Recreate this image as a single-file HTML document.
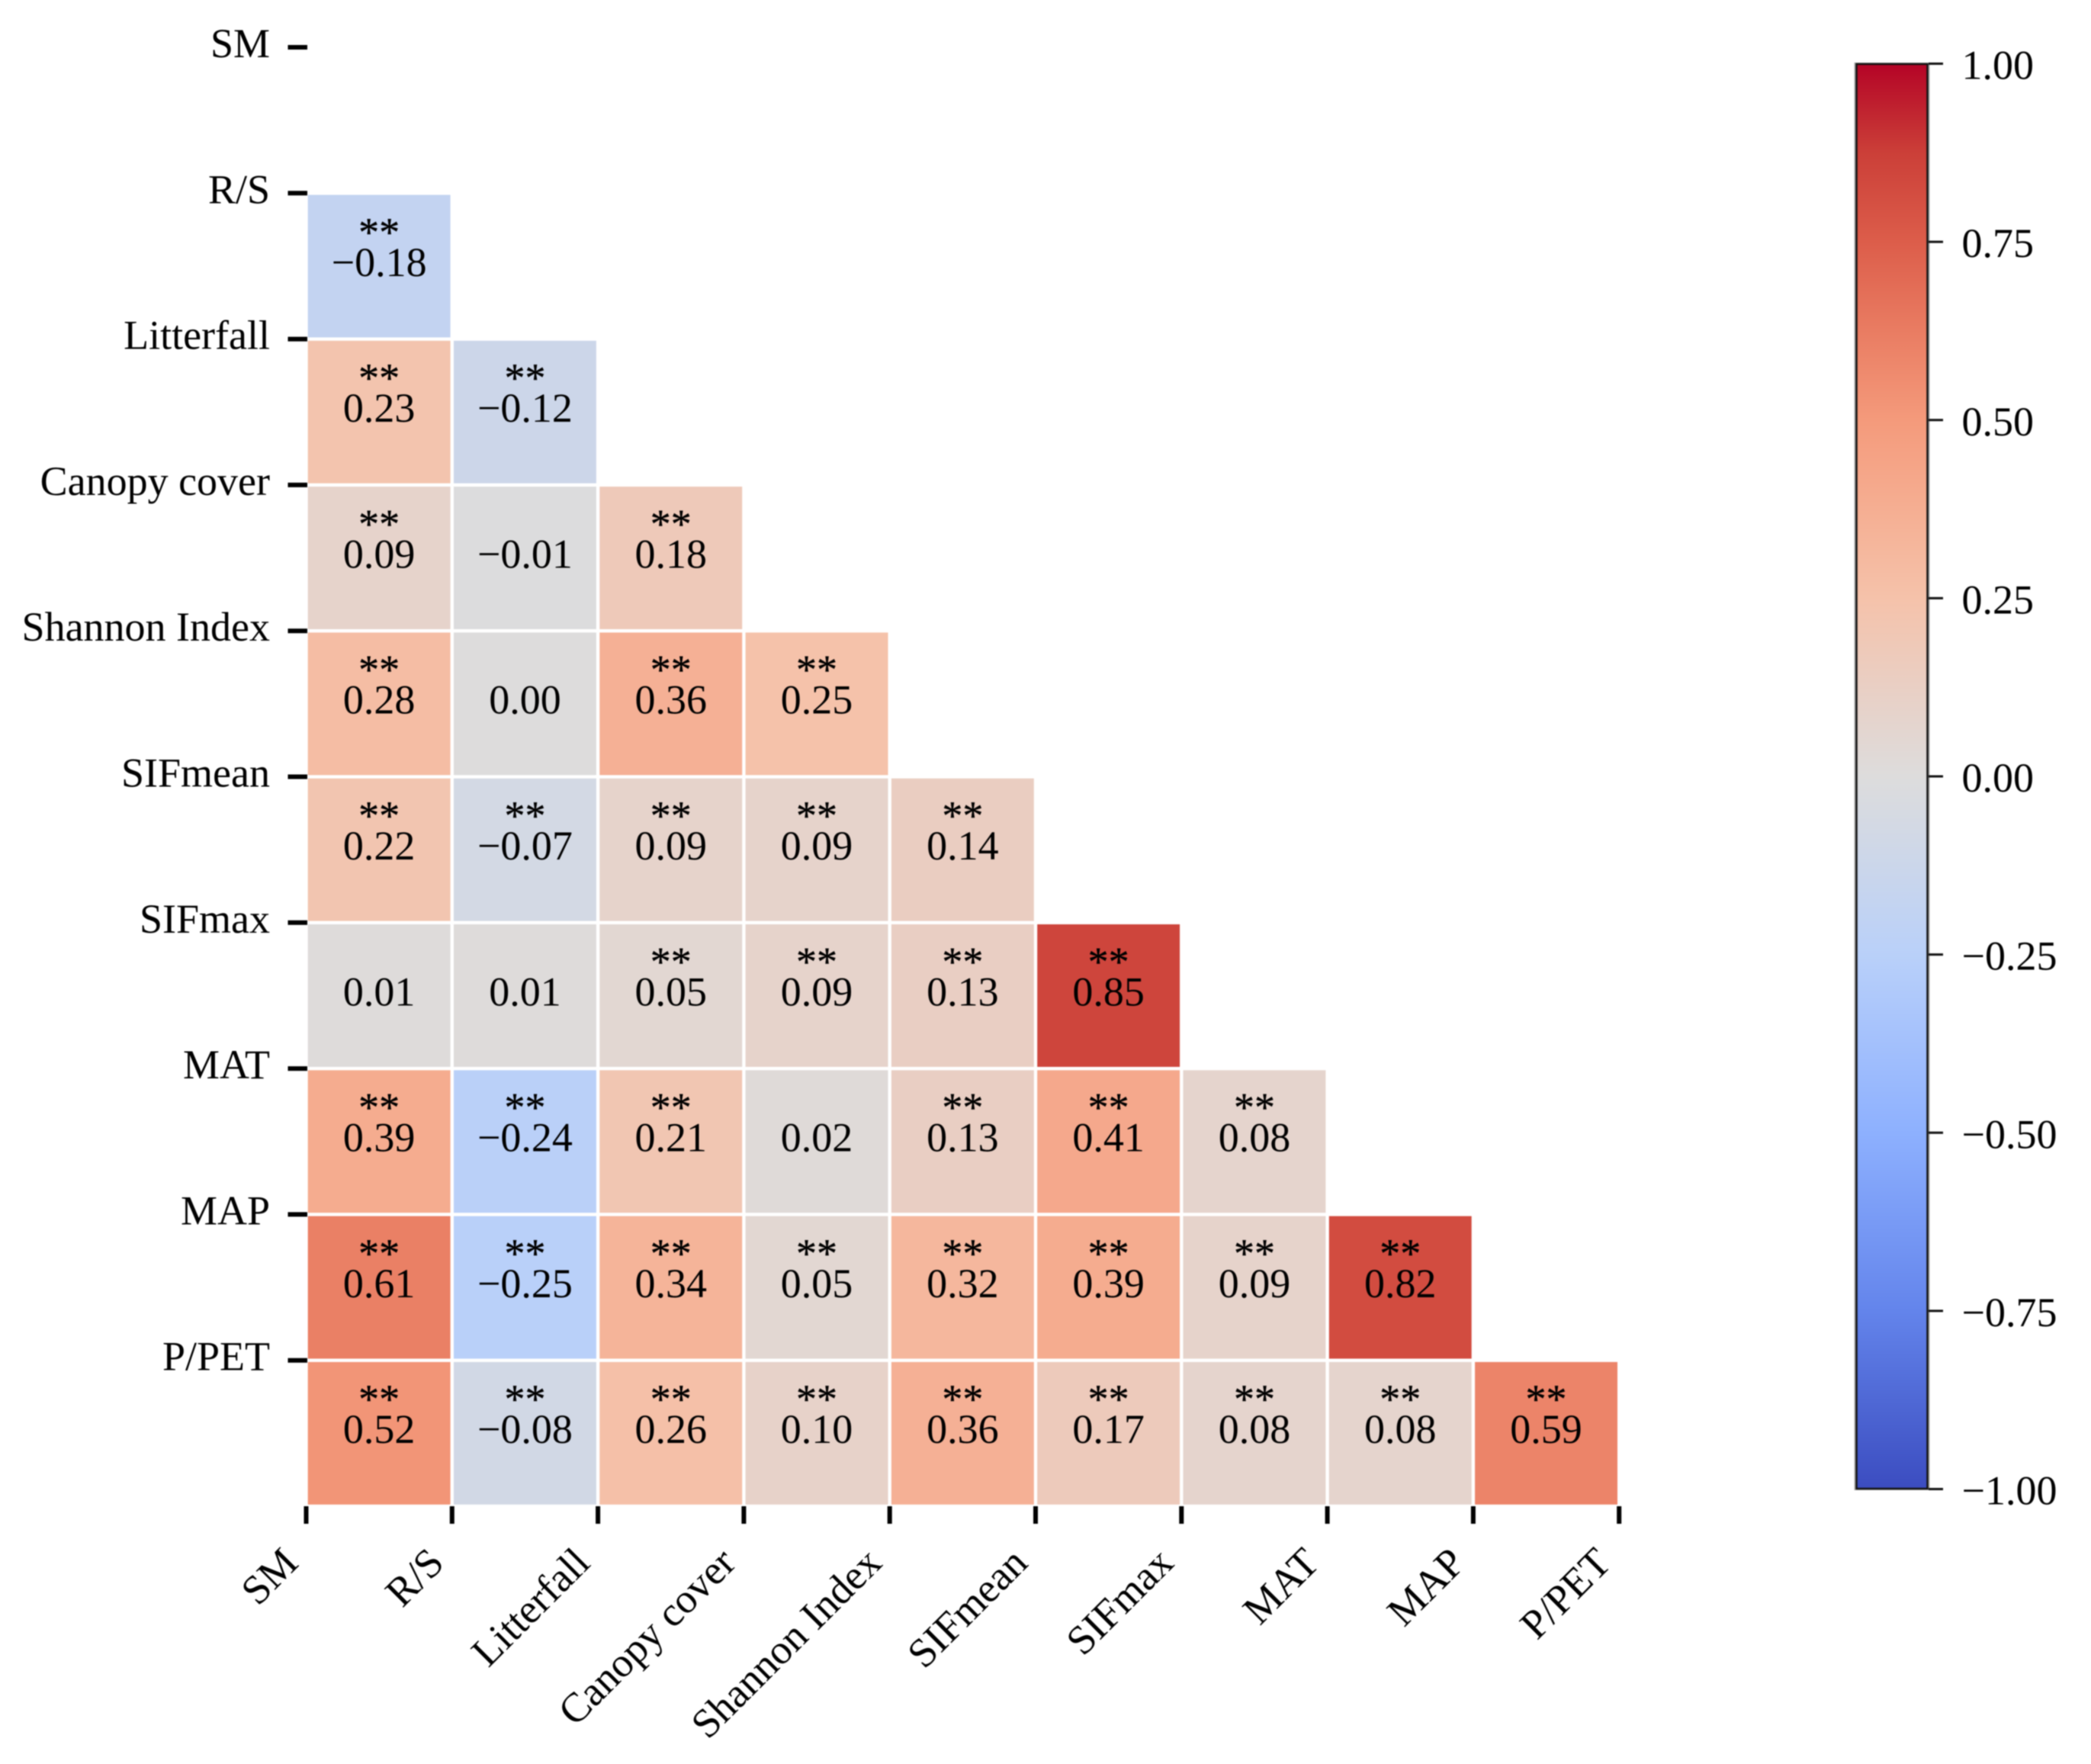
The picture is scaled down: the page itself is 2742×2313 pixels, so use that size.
<!DOCTYPE html>
<html lang="en">
<head>
<meta charset="utf-8">
<title>Correlation heatmap</title>
<style>
html,body{margin:0;padding:0;background:#fff;}
svg{display:block;filter:blur(0.7px);}
text{font-family:"Liberation Serif","Times New Roman",serif;fill:#000;font-size:54px;}
.stars{stroke:#000;stroke-width:0.4px;}
</style>
</head>
<body>
<svg id="chart" xmlns="http://www.w3.org/2000/svg" width="2742" height="2313" viewBox="0 0 2742 2313">
<defs>
<linearGradient id="cbar-gradient" x1="0" y1="1" x2="0" y2="0"></linearGradient>
</defs>
<rect x="0" y="0" width="2742" height="2313" fill="#ffffff"/>
<g id="cells"></g>
<g id="xaxis"></g>
<g id="yaxis"></g>
<g id="colorbar"></g>
</svg>
<script>
const labels = ["SM","R/S","Litterfall","Canopy cover","Shannon Index","SIFmean","SIFmax","MAT","MAP","P/PET"];
const correlations = [
  [],
  [-0.18],
  [0.23,-0.12],
  [0.09,-0.01,0.18],
  [0.28,0.00,0.36,0.25],
  [0.22,-0.07,0.09,0.09,0.14],
  [0.01,0.01,0.05,0.09,0.13,0.85],
  [0.39,-0.24,0.21,0.02,0.13,0.41,0.08],
  [0.61,-0.25,0.34,0.05,0.32,0.39,0.09,0.82],
  [0.52,-0.08,0.26,0.10,0.36,0.17,0.08,0.08,0.59]
];
const significance = [
  [],
  ["**"],
  ["**","**"],
  ["**","","**"],
  ["**","","**","**"],
  ["**","**","**","**","**"],
  ["","","**","**","**","**"],
  ["**","**","**","","**","**","**"],
  ["**","**","**","**","**","**","**","**"],
  ["**","**","**","**","**","**","**","**","**"]
];
const colorbarTicks = [1,0.75,0.5,0.25,0,-0.25,-0.5,-0.75,-1];
const colormapColors = ["#3b4cc0","#4f68d5","#6384eb","#789af5","#8db0fe","#a3c0fc","#b9d0f9","#cbd6ea","#dddcdc","#e9cfc4","#f5c2aa","#f5ae92","#f49a7b","#e97c62","#dc5d4a","#cb3f38","#b40426"];

const NS = "http://www.w3.org/2000/svg";
const X0 = 401.5, Y0 = 62, STEP = 191.3, GAP = 2.2;
const CB_L = 2433, CB_R = 2529, CB_T = 83.5, CB_B = 1952.5;

function xPos(i){ return X0 + STEP * i; }
function yPos(i){ return Y0 + STEP * i; }
function cbarY(v){ return CB_T + (1 - v) / 2 * (CB_B - CB_T); }
function hexToRgb(h){ return [1,3,5].map(function(k){ return parseInt(h.substr(k,2),16); }); }
function colorFor(v){
  const t = Math.max(0, Math.min(1, (v + 1) / 2)) * (colormapColors.length - 1);
  const i = Math.min(Math.floor(t), colormapColors.length - 2);
  const f = t - i, a = hexToRgb(colormapColors[i]), b = hexToRgb(colormapColors[i + 1]);
  return "rgb(" + a.map(function(c,k){ return Math.round(c + (b[k] - c) * f); }).join(",") + ")";
}
function fmt(v){
  const s = Math.abs(v).toFixed(2);
  return v < 0 ? "\u2212" + s : s;
}
function make(tag, attrs, parent, txt){
  const el = document.createElementNS(NS, tag);
  Object.keys(attrs).forEach(function(k){ el.setAttribute(k, attrs[k]); });
  if (txt !== undefined) el.textContent = txt;
  parent.appendChild(el);
  return el;
}

const cellsG = document.getElementById("cells");
correlations.forEach(function(row, r){
  row.forEach(function(v, c){
    const g = make("g", {}, cellsG);
    
    
    make("rect", {x:xPos(c)+GAP, y:yPos(r)+GAP, width:STEP-2*GAP, height:STEP-2*GAP, fill:colorFor(v)}, g);
    const cx = xPos(c) + STEP / 2;
    if (significance[r][c]) {
      const s = make("text", {x:cx, y:yPos(r)+69, "text-anchor":"middle", "class":"stars"}, g, significance[r][c]);
      
      
    }
    const t = make("text", {x:cx, y:yPos(r)+108.5, "text-anchor":"middle"}, g, fmt(v));
    
    
  });
});

const xG = document.getElementById("xaxis");


labels.forEach(function(l, i){
  const x = xPos(i);
  const tick = make("line", {x1:x, x2:x, y1:1975, y2:1998, stroke:"#000", "stroke-width":6}, xG);
  
  
  const px = x - 8, py = 2052;
  const t = make("text", {x:px, y:py, "text-anchor":"end", transform:"rotate(-45 " + px + " " + py + ")"}, xG, l);
  
  
});

const yG = document.getElementById("yaxis");


labels.forEach(function(l, i){
  const y = yPos(i);
  const tick = make("line", {x1:377.5, x2:403, y1:y, y2:y, stroke:"#000", "stroke-width":6}, yG);
  
  
  const t = make("text", {x:354, y:y+13, "text-anchor":"end"}, yG, l);
  
  
});

const grad = document.getElementById("cbar-gradient");
colormapColors.forEach(function(c, i){
  make("stop", {offset:(i / (colormapColors.length - 1)), "stop-color":c}, grad);
});
const cbG = document.getElementById("colorbar");


const bar = make("rect", {x:CB_L, y:CB_T, width:CB_R-CB_L, height:CB_B-CB_T, fill:"url(#cbar-gradient)", stroke:"#a8a8a8", "stroke-width":3}, cbG);


const frame = make("rect", {x:CB_L+1.5, y:CB_T+0.5, width:CB_R-CB_L-3, height:CB_B-CB_T-1, fill:"none", stroke:"#141414", "stroke-width":2.5}, cbG);


colorbarTicks.forEach(function(v){
  const y = cbarY(v);
  const tick = make("line", {x1:CB_R, x2:2548, y1:y, y2:y, stroke:"#111", "stroke-width":3}, cbG);
  
  
  const t = make("text", {x:2572.5, y:y+20, "text-anchor":"start"}, cbG, fmt(v));
  
  
});
</script>
</body>
</html>
